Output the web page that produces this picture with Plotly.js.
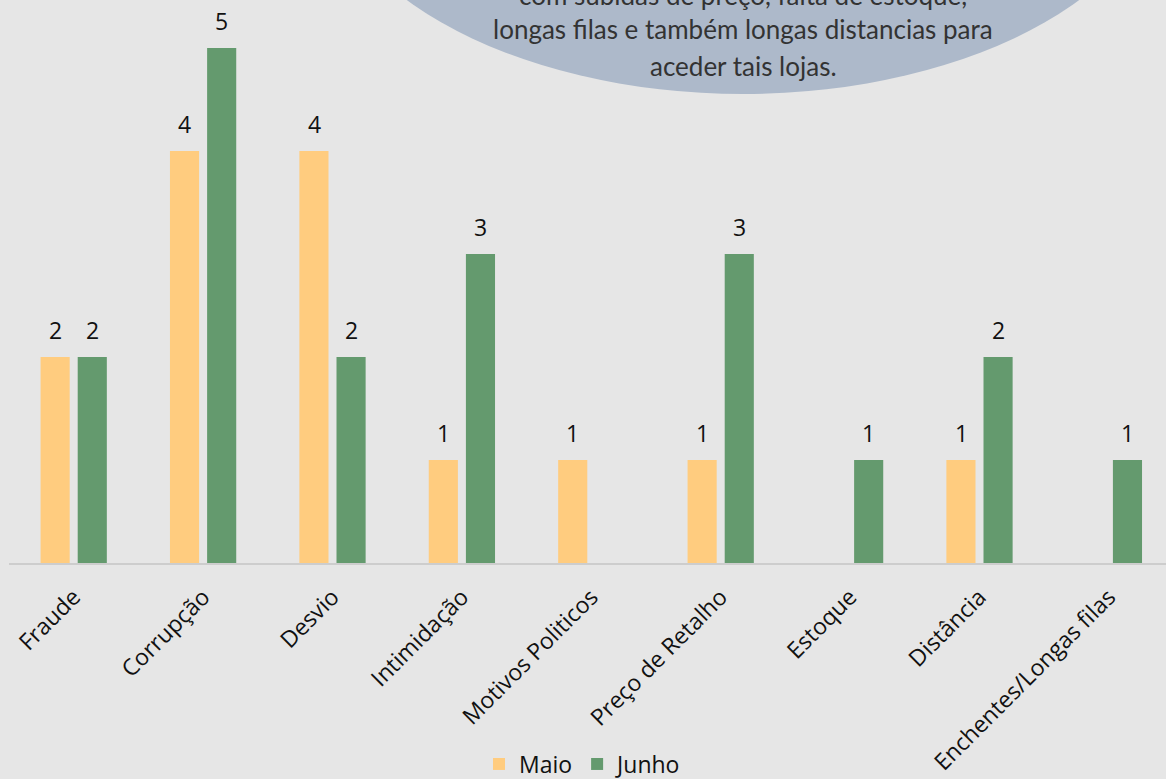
<!DOCTYPE html>
<html>
<head>
<meta charset="utf-8">
<script src="https://cdn.plot.ly/plotly-3.0.1.min.js"></script>
<style>html,body{margin:0;padding:0;background:#E6E6E6;}#chart{width:1166px;height:779px;}</style>
</head>
<body>
<div id="chart"></div>
<script>
const categories = ["Fraude", "Corrupção", "Desvio", "Intimidação", "Motivos Politicos", "Preço de Retalho", "Estoque", "Distância", "Enchentes/Longas filas"];
const maio = [2, 4, 4, 1, 1, 1, 0, 1, 0];
const junho = [2, 5, 2, 3, 0, 3, 1, 2, 1];
const seriesNames = ["Maio", "Junho"];
const seriesColors = ["#FFCC7F", "#649A6E"];
const calloutLines = ["com subidas de preço, falta de estoque,", "longas filas e também longas distancias para", "aceder tais lojas."];

const tickFont = {family: "Open Sans, sans-serif", size: 23, color: "#111111"};
const labelFont = {family: "Open Sans, sans-serif", size: 23, color: "#111111"};

const traces = [maio, junho].map((vals, i) => ({
  type: "bar",
  name: seriesNames[i],
  x: categories,
  y: vals,
  marker: {color: seriesColors[i]},
  hoverinfo: "x+y"
}));

const annotations = [];
[maio, junho].forEach((vals, i) => {
  vals.forEach((v, j) => {
    if (v > 0) {
      annotations.push({
        x: categories[j], y: v, xref: "x", yref: "y",
        text: String(v), showarrow: false,
        xshift: i === 0 ? -18.5 : 18.5, yshift: 27,
        yanchor: "middle", xanchor: "center",
        font: labelFont
      });
    }
  });
});

// callout text inside the ellipse (paper coords; plot area 0..563 px tall)
const plotW = 1157, plotL = 9;
const lineY = [-5, 29, 66];
calloutLines.forEach((t, k) => {
  annotations.push({
    x: (743 - plotL) / plotW, y: (563 - lineY[k]) / 563, xref: "paper", yref: "paper",
    text: t, showarrow: false, xanchor: "center", yanchor: "middle",
    font: {family: "Lato, sans-serif", size: 26, color: "#333333"}
  });
});

const layout = {
  width: 1166, height: 779,
  paper_bgcolor: "#E6E6E6", plot_bgcolor: "#E6E6E6",
  margin: {l: plotL, r: 0, t: 0, b: 216, autoexpand: false},
  barmode: "group",
  bargap: 0.426,
  bargroupgap: 0.216,
  showlegend: true,
  legend: {orientation: "h", x: 0.5, xanchor: "center", xref: "container",
           y: 1 - 764 / 779, yanchor: "middle", yref: "container",
           font: {family: "Open Sans, sans-serif", size: 23, color: "#111111"}, traceorder: "normal",
           bgcolor: "rgba(0,0,0,0)"},
  xaxis: {
    type: "category", range: [-0.5, plotW / 129.4 - 0.5],
    tickangle: -45, showgrid: false, zeroline: false,
    showline: true, linecolor: "#CDCDCD", linewidth: 1.5,
    ticks: "", tickfont: tickFont, automargin: false, ticklabelstandoff: 10
  },
  yaxis: {range: [0, 563 / 103], visible: false, showgrid: false, zeroline: false, fixedrange: true, automargin: false},
  shapes: [{
    type: "circle", xref: "paper", yref: "paper", layer: "above",
    x0: (316 - plotL) / plotW, x1: (1170 - plotL) / plotW,
    y0: (563 - 94) / 563, y1: (563 + 396) / 563,
    fillcolor: "#ADB9CA", line: {width: 0}
  }],
  annotations: annotations
};

Plotly.newPlot("chart", traces, layout, {displayModeBar: false, staticPlot: true});
</script>
</body>
</html>
